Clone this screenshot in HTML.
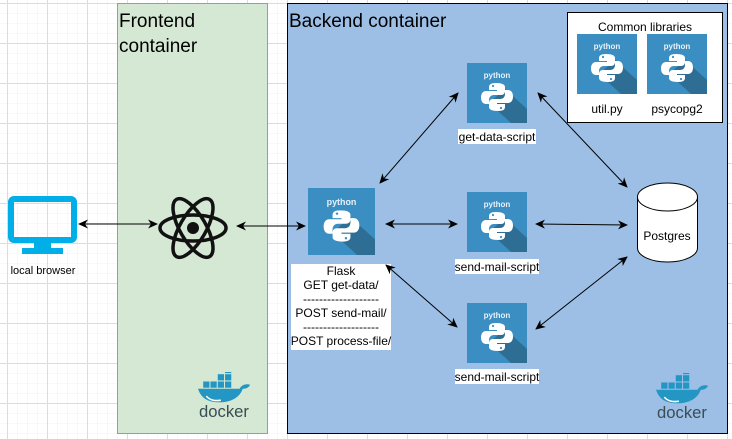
<!DOCTYPE html>
<html><head><meta charset="utf-8"><style>
html,body{margin:0;padding:0;background:#fff;}
svg{display:block;}
text{font-family:"Liberation Sans",Arial,sans-serif;}
</style></head><body>
<svg width="732" height="439" viewBox="0 0 732 439" xmlns="http://www.w3.org/2000/svg">
<defs>
<pattern id="minor" x="7" y="3" width="10" height="10" patternUnits="userSpaceOnUse">
<path d="M0 0H10M0 0V10" stroke="#f0f0f0" stroke-width="1" fill="none"/>
</pattern>
<pattern id="major" x="7" y="3" width="40" height="40" patternUnits="userSpaceOnUse">
<path d="M0 0.5H40M0.5 0V40" stroke="#dcdcdc" stroke-width="1" fill="none"/>
</pattern>
<marker id="ah" viewBox="0 0 10 10" refX="9" refY="5" markerWidth="10" markerHeight="10" orient="auto-start-reverse" markerUnits="userSpaceOnUse">
<path d="M0 0.5L10 5L0 9.5L3 5Z" fill="#000"/>
</marker>
<symbol id="py" viewBox="0 0 60 60">
<rect width="60" height="60" fill="#3b8ec2"/>
<path d="M38 26L60 46V60H44L22 40Z" fill="#2e6e95"/>
<text x="30" y="15" font-size="8" font-weight="bold" fill="#e8f1f8" text-anchor="middle">python</text>
<path d="M29 20c-5 0-7 1.5-7 4v3h8v1h-11c-3 0-5 2.5-5 6.5s2 6.5 5 6.5h3v-4c0-3 2-5 5-5h7c2.5 0 4-1.5 4-4v-4c0-2.5-3-4-9-4z" fill="#fff"/>
<path d="M31 48c5 0 7-1.5 7-4v-3h-8v-1h11c3 0 5-2.5 5-6.5s-2-6.5-5-6.5h-3v4c0 3-2 5-5 5h-7c-2.5 0-4 1.5-4 4v4c0 2.5 3 4 9 4z" fill="#fff"/>
<circle cx="26" cy="23" r="1.1" fill="#3b8ec2"/><circle cx="34" cy="45" r="1.1" fill="#3b8ec2"/>
</symbol>
<symbol id="docker" viewBox="0 0 50 44">
<g fill="#2496c4">
<rect x="12" y="9" width="6" height="6"/><rect x="19" y="9" width="6" height="6"/><rect x="26" y="9" width="6" height="6"/>
<rect x="19" y="2" width="6" height="6"/><rect x="26" y="2" width="6" height="6"/><rect x="26" y="-4" width="6" height="5"/>
<rect x="5" y="9" width="6" height="6"/>
<path d="M0 16H40c2-4 6-5 10-4-1 3-4 4-7 4-3 9-12 13-22 13C9 29 3 25 0 16z"/>
</g>
<path d="M8 23c3 4 9 5 14 4" stroke="#fff" stroke-width="1.5" fill="none"/>
<text x="25" y="43" font-size="16" fill="#394d54" text-anchor="middle">docker</text>
</symbol>
</defs>
<rect width="732" height="439" fill="#fff"/>
<rect width="732" height="439" fill="url(#minor)"/>
<rect width="732" height="439" fill="url(#major)"/>

<rect x="117.5" y="3.5" width="150" height="430" fill="#d5e8d4" stroke="#82b366"/>
<text x="119" y="27" font-size="19">Frontend</text>
<text x="119" y="52" font-size="19">container</text>
<rect x="287.5" y="3.5" width="440" height="430" fill="#9dbfe6" stroke="#000"/>
<text x="289" y="27" font-size="19">Backend container</text>

<rect x="567.5" y="12.5" width="155" height="110" fill="#fff" stroke="#000"/>
<text x="645" y="31" font-size="12" text-anchor="middle">Common libraries</text>
<use href="#py" x="577" y="34" width="60" height="60"/>
<use href="#py" x="647" y="34" width="60" height="60"/>
<text x="607" y="113" font-size="12" text-anchor="middle">util.py</text>
<text x="677" y="113" font-size="12" text-anchor="middle">psycopg2</text>

<rect x="11" y="199" width="63" height="41" rx="3" fill="none" stroke="#00aee8" stroke-width="6"/>
<path d="M34 242h17v6h12v6H22v-6h12z" fill="#00aee8"/>
<text x="43" y="274" font-size="11" text-anchor="middle">local browser</text>

<g transform="translate(193,228)" fill="none" stroke="#111" stroke-width="3.5">
<ellipse rx="33" ry="13"/>
<ellipse rx="33" ry="13" transform="rotate(60)"/>
<ellipse rx="33" ry="13" transform="rotate(-60)"/>
<circle r="6" fill="#111" stroke="none"/>
</g>

<use href="#py" x="308" y="188" width="67" height="67"/>
<rect x="291" y="264" width="100" height="86" fill="#fff"/>
<g font-size="12" text-anchor="middle">
<text x="341" y="275">Flask</text>
<text x="341" y="289">GET get-data/</text>
<text x="341" y="303">-------------------</text>
<text x="341" y="317">POST send-mail/</text>
<text x="341" y="331">-------------------</text>
<text x="341" y="345">POST process-file/</text>
</g>
<use href="#py" x="467" y="63" width="60" height="60"/>
<use href="#py" x="467" y="192" width="60" height="60"/>
<use href="#py" x="467" y="303" width="60" height="60"/>
<rect x="458" y="129" width="78" height="15" fill="#fff"/>
<rect x="455" y="259" width="84" height="15" fill="#fff"/>
<rect x="455" y="369" width="84" height="15" fill="#fff"/>
<g font-size="12" text-anchor="middle">
<text x="497" y="141">get-data-script</text>
<text x="497" y="271">send-mail-script</text>
<text x="497" y="381">send-mail-script</text>
</g>

<path d="M637.5 197v51a30 14 0 0 0 60 0v-51" fill="#fff" stroke="#000"/>
<ellipse cx="667.5" cy="197" rx="30" ry="14" fill="#fff" stroke="#000"/>
<text x="667" y="240" font-size="12" text-anchor="middle">Postgres</text>

<use href="#docker" x="198" y="372" width="52" height="46"/>
<use href="#docker" x="656" y="373" width="52" height="46"/>

<g stroke="#000" stroke-width="1" marker-start="url(#ah)" marker-end="url(#ah)" fill="none">
<line x1="79" y1="224" x2="157" y2="224"/>
<line x1="237" y1="226" x2="305" y2="226"/>
<line x1="380" y1="183" x2="458" y2="93"/>
<line x1="538" y1="93" x2="627" y2="187"/>
<line x1="386" y1="224" x2="457" y2="224"/>
<line x1="536" y1="224" x2="627" y2="225"/>
<line x1="386" y1="265" x2="457" y2="327"/>
<line x1="536" y1="329" x2="627" y2="257"/>
</g>
</svg>
</body></html>
